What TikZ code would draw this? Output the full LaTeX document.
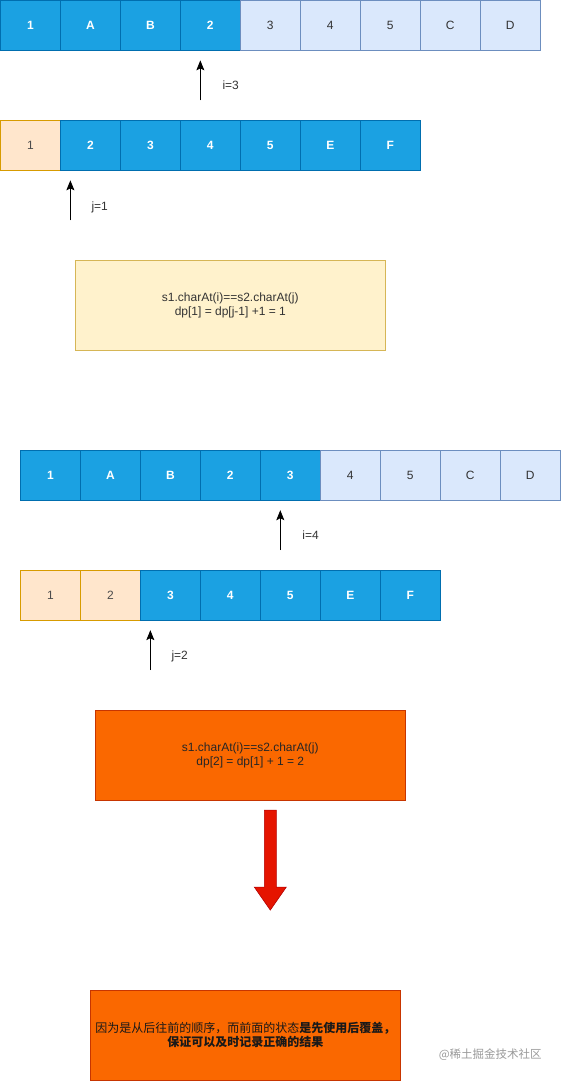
\documentclass[tikz,border=0pt]{standalone}
\usepackage{fontspec}
\setmainfont{Liberation Sans}
\newfontfamily\cjk{Noto Sans CJK SC}
\usetikzlibrary{arrows.meta}

\definecolor{cellblue}{HTML}{1BA1E2}
\definecolor{cellbluedraw}{HTML}{006EAF}
\definecolor{celllight}{HTML}{DAE8FC}
\definecolor{celllightdraw}{HTML}{6C8EBF}
\definecolor{cellpeach}{HTML}{FFE6CC}
\definecolor{cellpeachdraw}{HTML}{D79B00}
\definecolor{noteyellow}{HTML}{FFF2CC}
\definecolor{noteyellowdraw}{HTML}{D6B656}
\definecolor{noteorange}{HTML}{FA6800}
\definecolor{noteorangedraw}{HTML}{C73500}
\definecolor{downred}{HTML}{E51400}
\definecolor{downreddraw}{HTML}{B20000}

\tikzset{
  cell/.style={minimum width=60pt, minimum height=50pt, inner sep=0pt, line width=0.8pt, font=\fontsize{12}{14}\selectfont},
  done/.style={cell, fill=cellblue, draw=cellbluedraw, text=white, font=\fontsize{12}{14}\selectfont\bfseries},
  todo/.style={cell, fill=celllight, draw=celllightdraw, text=black!80},
  kept/.style={cell, fill=cellpeach, draw=cellpeachdraw, text=black!70},
  pointer/.style={-{Stealth[length=10pt, width=8pt, inset=2pt]}, line width=0.8pt},
  ptrlabel/.style={anchor=west, inner sep=0pt, text=black!80, font=\fontsize{12}{14}\selectfont},
  note/.style={minimum width=310pt, minimum height=90pt, inner sep=0pt, line width=0.8pt, align=center, font=\fontsize{12}{14}\selectfont}
}

\begin{document}
\begin{tikzpicture}[x=1pt, y=-1pt]
\path (0,0) rectangle (561,1081);
% first step: i=3, j=1
\node[done] (a1) at (30,25) {1};
\node[done] (a2) at (90,25) {A};
\node[done] (a3) at (150,25) {B};
\node[done] (a4) at (210,25) {2};
\node[todo] (a5) at (270,25) {3};
\node[todo] (a6) at (330,25) {4};
\node[todo] (a7) at (390,25) {5};
\node[todo] (a8) at (450,25) {C};
\node[todo] (a9) at (510,25) {D};
\coordinate (ifoot) at (200,100);
\coordinate (ihead) at (200,60);
\draw[pointer] (ifoot) -- (ihead);
\node[ptrlabel] (ilabel) at (222,85) {i=3};
\node[kept] (b1) at (30,145) {1};
\node[done] (b2) at (90,145) {2};
\node[done] (b3) at (150,145) {3};
\node[done] (b4) at (210,145) {4};
\node[done] (b5) at (270,145) {5};
\node[done] (b6) at (330,145) {E};
\node[done] (b7) at (390,145) {F};
\coordinate (jfoot) at (70,220);
\coordinate (jhead) at (70,180);
\draw[pointer] (jfoot) -- (jhead);
\node[ptrlabel] (jlabel) at (91,207) {j=1};
\node[note, fill=noteyellow, draw=noteyellowdraw, text=black!80] (first) at (230,305) {s1.charAt(i)==s2.charAt(j)\\dp[1] = dp[j-1] +1 = 1};
% second step: i=4, j=2
\node[done] (c1) at (50,475) {1};
\node[done] (c2) at (110,475) {A};
\node[done] (c3) at (170,475) {B};
\node[done] (c4) at (230,475) {2};
\node[done] (c5) at (290,475) {3};
\node[todo] (c6) at (350,475) {4};
\node[todo] (c7) at (410,475) {5};
\node[todo] (c8) at (470,475) {C};
\node[todo] (c9) at (530,475) {D};
\coordinate (kfoot) at (280,550);
\coordinate (khead) at (280,510);
\draw[pointer] (kfoot) -- (khead);
\node[ptrlabel] (klabel) at (302,535) {i=4};
\node[kept] (d1) at (50,595) {1};
\node[kept] (d2) at (110,595) {2};
\node[done] (d3) at (170,595) {3};
\node[done] (d4) at (230,595) {4};
\node[done] (d5) at (290,595) {5};
\node[done] (d6) at (350,595) {E};
\node[done] (d7) at (410,595) {F};
\coordinate (lfoot) at (150,670);
\coordinate (lhead) at (150,630);
\draw[pointer] (lfoot) -- (lhead);
\node[ptrlabel] (llabel) at (171,656) {j=2};
\node[note, fill=noteorange, draw=noteorangedraw, text=black!85] (second) at (250,755) {s1.charAt(i)==s2.charAt(j)\\dp[2] = dp[1] + 1 = 2};
% conclusion
\draw[fill=downred, draw=downreddraw, line width=0.6pt] (264,810) -- (276,810) -- (276,887) -- (286,887) -- (270,910) -- (254,887) -- (264,887) -- cycle;
\node[note, fill=noteorange, draw=noteorangedraw, text=black!90, font=\fontsize{12}{14.5}\cjk] (why) at (245,1035) {因为是从后往前的顺序，而前面的状态{\bfseries 是先使用后覆盖，}\\{\bfseries 保证可以及时记录正确的结果}};
\node[text=black!40, inner sep=0pt, font=\fontsize{11.5}{13}\cjk] (mark) at (490,1055) {@稀土掘金技术社区};
\end{tikzpicture}
\end{document}
